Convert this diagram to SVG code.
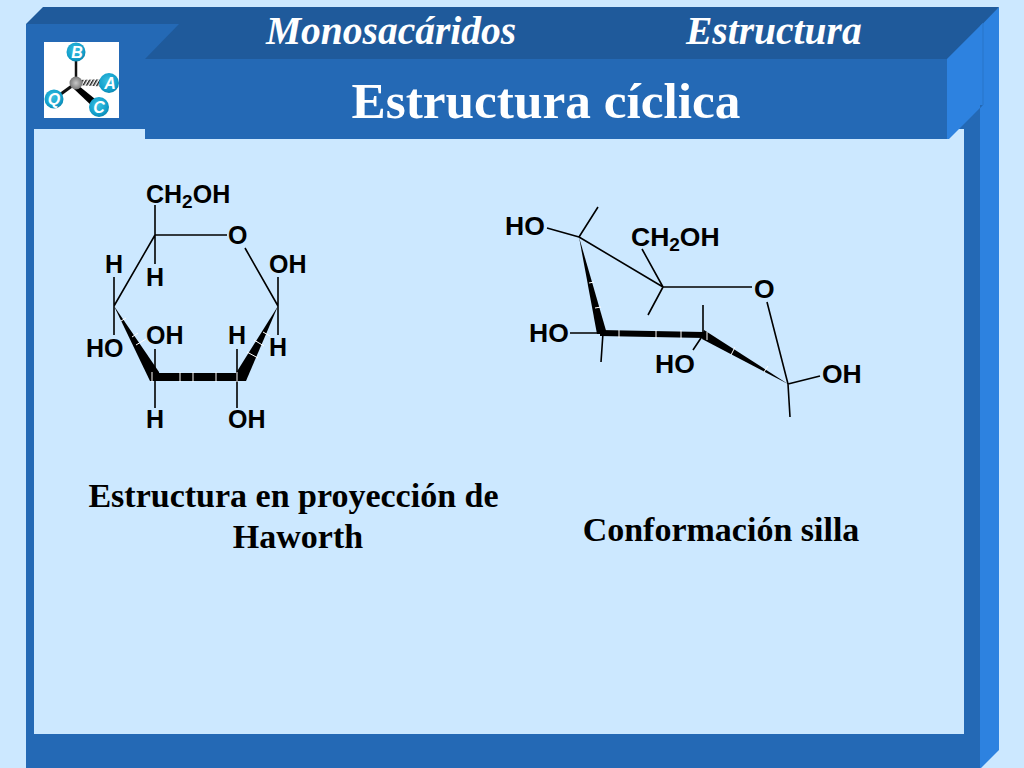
<svg xmlns="http://www.w3.org/2000/svg" width="1024" height="768" viewBox="0 0 1024 768">
<defs>
<radialGradient id="ball" cx="0.45" cy="0.4" r="0.65"><stop offset="0" stop-color="#3cc0e0"/><stop offset="0.7" stop-color="#12a0cc"/><stop offset="1" stop-color="#0b7fa8"/></radialGradient>
<radialGradient id="core" cx="0.5" cy="0.5" r="0.55"><stop offset="0" stop-color="#c8c8c8"/><stop offset="1" stop-color="#707070"/></radialGradient>
<pattern id="hatch" width="3" height="3" patternUnits="userSpaceOnUse" patternTransform="rotate(30)"><rect width="3" height="3" fill="#fff"/><rect width="1.5" height="3" fill="#222"/></pattern>
</defs>
<style>
.front{fill:#2469b5}
.dark{fill:#1f5a9b}
.light{fill:#2d82e0}
.bond{stroke:#000;stroke-width:1.6;fill:none}
.bold{fill:#000}
.cut{stroke:#fff;stroke-width:1;fill:none}
.chem{font-family:"Liberation Sans",Arial,sans-serif;font-weight:700;font-size:25px;fill:#000}
.big{font-size:26.5px}
.sub{font-size:19px}
.cap{font-family:"Liberation Serif","Times New Roman",serif;font-weight:700;font-size:34px;fill:#000;text-anchor:middle}
.head{font-family:"Liberation Serif","Times New Roman",serif;font-weight:700;font-style:italic;font-size:39.5px;fill:#fff}
.title{font-family:"Liberation Serif","Times New Roman",serif;font-weight:700;font-size:51.3px;fill:#fff;text-anchor:middle}
.icon{font-family:"Liberation Sans",Arial,sans-serif;font-weight:700;font-style:italic;font-size:16px;fill:#fff;text-anchor:middle}
</style>
<rect width="1024" height="768" fill="#cce8ff"/>
<g id="frame">
<polygon class="front" points="26,24 980,24 980,768 26,768"/>
<polygon class="light" points="980,20 999,7 999,750 981,768 980,768"/>
<polygon class="dark" points="26,24 43,7 999,7 983,23.5 26,24"/>
<rect x="34" y="129" width="930" height="605" fill="#cce8ff"/>
</g>
<g id="header">
<polygon class="dark" points="145,59 180,23 983,23 947,59"/>
<polygon class="light" points="947,59 983,23 983,105 949,139 947,139"/>
<polygon points="983,105 961,129 964,129 964,135 980,135 980,105" class="front"/>
<line x1="983" y1="23" x2="983" y2="105" stroke="#2874c8" stroke-width="1"/>
<rect class="front" x="145" y="59" width="802" height="80"/>
<text class="head" x="266" y="44">Monosacáridos</text>
<text class="head" x="686" y="44">Estructura</text>
<text class="title" x="546" y="118">Estructura cíclica</text>
</g>
<g id="logo">
<rect x="44" y="42" width="75" height="76" fill="#fff"/>
<line x1="76" y1="52" x2="76" y2="82" stroke="#111" stroke-width="2.5"/>
<polygon points="76,80 110,79 110,87 76,85" fill="url(#hatch)"/>
<line x1="76" y1="83" x2="54" y2="99" stroke="#111" stroke-width="3"/>
<polygon points="79,86 74,89 94,108 100,103" fill="#000"/>
<circle cx="76" cy="83" r="6.5" fill="url(#core)"/>
<circle cx="76" cy="52" r="9.5" fill="url(#ball)"/>
<circle cx="109" cy="83" r="10" fill="url(#ball)"/>
<circle cx="54" cy="99" r="9.5" fill="url(#ball)"/>
<circle cx="99" cy="107" r="10" fill="url(#ball)"/>
<text class="icon" x="77" y="58">B</text>
<text class="icon" x="110" y="89">A</text>
<text class="icon" x="54" y="105">Q</text>
<text class="icon" x="99" y="113">C</text>
</g>
<g id="haworth">
<path class="bond" d="M155,205V264M155,235H227M155,235L114,306M114,277V335M245,248L278,306M278,277V335M155,349V408M237,349V408"/>
<polygon class="bold" points="114,306 159,372 160,381 150,381"/>
<polygon class="bold" points="150,373 244,373 245,381 150,381"/>
<polygon class="bold" points="278,306 246,381 235,381 236,373"/>
<path class="cut" d="M121,321L126,318M132,337L138,333M136,345L146,339M152,372V382M180,372V382M193,372V382M216,372V382M237,372V382M247,352L258,358M254,340L264,346M263,332L270,336"/>
<text class="chem" x="146" y="203">CH<tspan class="sub" dy="5">2</tspan><tspan dy="-5">OH</tspan></text>
<text class="chem" x="228" y="244">O</text>
<text class="chem" x="105" y="273">H</text>
<text class="chem" x="146" y="286">H</text>
<text class="chem" x="269" y="273">OH</text>
<text class="chem" x="86" y="357">HO</text>
<text class="chem" x="146" y="344">OH</text>
<text class="chem" x="228" y="344">H</text>
<text class="chem" x="269" y="356">H</text>
<text class="chem" x="146" y="428">H</text>
<text class="chem" x="228" y="428">OH</text>
</g>
<g id="silla">
<path class="bond" d="M579,237L598,207M547,228L579,237M579,237L663,287M642,249L663,287M663,287L648,315M663,287H752M767,302L788,384M788,384L820,376M788,384L790,417M570,333H603M603,333L601,362M703,335V305M703,335L693,350"/>
<polygon class="bold" points="579,237 607,334 597,334"/>
<polygon class="bold" points="600,330 704,332 704,338 600,336"/>
<polygon class="bold" points="704,330 788,384 702,339"/>
<path class="cut" d="M589,283L594,282M595,308L601,307M619,330V338M656,330V339M681,330V339M707,332L707,340M731,355L735,347M764,372L768,366"/>
<text class="chem big" x="505" y="235">HO</text>
<text class="chem big" x="631" y="246">CH<tspan class="sub" dy="5">2</tspan><tspan dy="-5">OH</tspan></text>
<text class="chem big" x="754" y="298">O</text>
<text class="chem big" x="529" y="342">HO</text>
<text class="chem big" x="655" y="373">HO</text>
<text class="chem big" x="822" y="383">OH</text>
</g>
<g id="captions">
<text class="cap" x="293.5" y="507">Estructura en proyección de</text>
<text class="cap" x="298" y="548">Haworth</text>
<text class="cap" x="721" y="541">Conformación silla</text>
</g>
</svg>
